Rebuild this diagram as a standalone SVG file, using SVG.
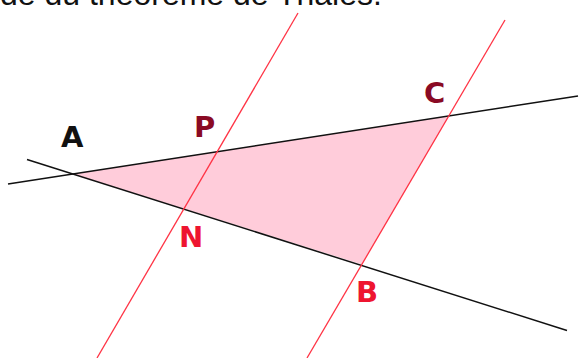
<svg xmlns="http://www.w3.org/2000/svg" width="579" height="358" viewBox="0 0 579 358">
<style>
.bl{stroke:#111;stroke-width:1.5;fill:none}
.rd{stroke:#ff3344;stroke-width:1.3;fill:none}
.lab{font-family:"DejaVu Sans",Verdana,sans-serif;font-weight:bold;font-size:29px}
.dk{fill:#8a0a24}
.br{fill:#ee1530}
</style>
<rect width="579" height="358" fill="#fff"/>
<text x="0" y="4.5" font-family="Liberation Sans, Arial, sans-serif" font-size="32" fill="#111">de du théorème de Thalès.</text>
<g id="triangle"><polygon points="73,174 449,116 362,264.5" fill="#ffccda"/></g>
<g id="connectors">
<line class="bl" x1="8" y1="184" x2="578" y2="96"/>
<line class="bl" x1="27" y1="159.5" x2="567" y2="330.5"/>
<line class="rd" x1="298" y1="13" x2="97" y2="358"/>
<line class="rd" x1="505" y1="20" x2="307" y2="358"/>
</g>
<g id="A"><text class="lab" x="61" y="147" fill="#111">A</text></g>
<g id="P"><text class="lab dk" x="194" y="136.5">P</text></g>
<g id="C"><text class="lab dk" x="424" y="102.5">C</text></g>
<g id="N"><text class="lab br" x="179" y="246.5">N</text></g>
<g id="B"><text class="lab br" x="356" y="301.5">B</text></g>
</svg>
